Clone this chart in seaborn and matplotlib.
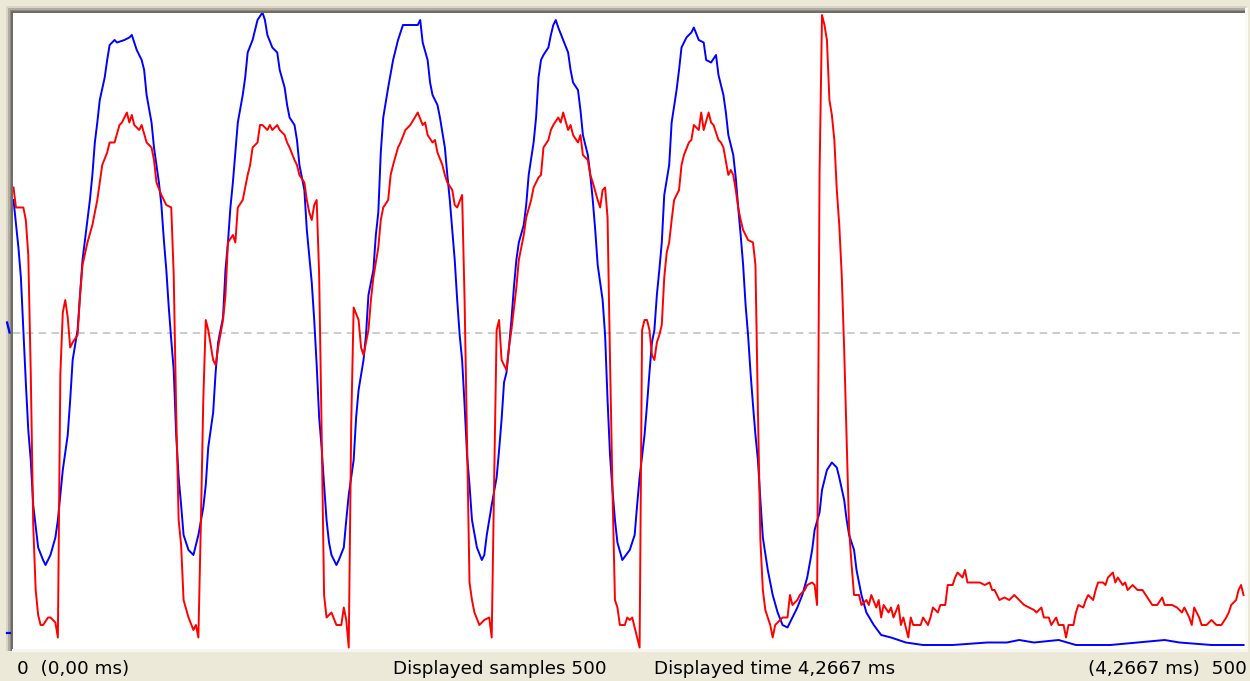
import matplotlib
matplotlib.use("Agg")
import matplotlib.pyplot as plt
from matplotlib.patches import Rectangle
import seaborn as sns
import pandas as pd

# ---------------- data (sample index, 8-bit level) ----------------
blue_sample = [
    0, 2, 3, 4, 5, 6, 7, 8, 10, 12,
    13, 15, 17, 18, 19, 20, 22, 23, 24, 26,
    27, 28, 29, 31, 32, 33, 34, 35, 37, 38,
    39, 41, 42, 45, 47, 48, 50, 52, 53, 54,
    56, 57, 59, 60, 61, 62, 63, 64, 65, 66,
    67, 68, 69, 71, 73, 75, 77, 78, 79, 81,
    82, 83, 85, 86, 87, 88, 89, 90, 91, 93,
    94, 95, 97, 98, 99, 101, 102, 103, 105, 107,
    108, 110, 111, 112, 114, 115, 116, 118, 119, 121,
    122, 123, 124, 125, 126, 127, 128, 129, 131, 132,
    134, 135, 136, 138, 139, 140, 142, 143, 144, 146,
    147, 148, 149, 150, 152, 154, 156, 158, 162, 164,
    165, 166, 168, 169, 170, 172, 173, 175, 176, 177,
    178, 179, 180, 181, 182, 183, 184, 185, 186, 188,
    190, 191, 192, 194, 196, 197, 198, 199, 200, 201,
    202, 203, 204, 205, 207, 208, 209, 211, 212, 213,
    214, 215, 217, 218, 219, 220, 221, 223, 225, 226,
    227, 229, 230, 231, 233, 234, 235, 236, 237, 239,
    240, 241, 242, 243, 244, 245, 247, 250, 252, 253,
    254, 256, 257, 258, 259, 260, 261, 262, 263, 264,
    266, 267, 269, 270, 271, 273, 275, 276, 278, 280,
    281, 283, 285, 286, 288, 289, 290, 292, 293, 294,
    295, 296, 297, 298, 299, 300, 301, 302, 303, 304,
    306, 308, 310, 312, 314, 316, 318, 320, 322, 324,
    325, 327, 328, 330, 332, 334, 335, 337, 338, 339,
    341, 342, 344, 346, 349, 352, 356, 362, 369, 381,
    395, 403, 408, 414, 424, 431, 445, 467, 473, 486,
    499,
]
blue_level = [
    180, 161, 149, 128, 107, 88, 76, 58, 41, 36,
    34, 38, 45, 52, 62, 72, 86, 100, 116, 128,
    142, 156, 164, 180, 190, 203, 211, 220, 229, 236,
    242, 244, 243, 244, 245, 246, 240, 236, 232, 222,
    211, 201, 187, 178, 164, 152, 137, 124, 112, 86,
    69, 58, 46, 40, 38, 46, 57, 66, 81, 95,
    111, 123, 133, 152, 163, 177, 187, 199, 211, 222,
    229, 239, 244, 248, 252, 255, 252, 246, 241, 239,
    232, 225, 218, 213, 210, 204, 194, 184, 168, 147,
    132, 114, 93, 81, 66, 52, 43, 38, 34, 36,
    41, 52, 62, 76, 93, 104, 116, 126, 142, 152,
    166, 175, 199, 213, 225, 236, 244, 250, 250, 250,
    252, 243, 236, 227, 222, 218, 213, 201, 190, 180,
    168, 156, 140, 126, 116, 98, 78, 66, 52, 41,
    36, 38, 46, 58, 69, 80, 92, 107, 111, 121,
    132, 145, 156, 163, 170, 178, 190, 203, 213, 229,
    236, 238, 241, 246, 250, 252, 249, 244, 239, 232,
    227, 224, 216, 206, 198, 190, 180, 168, 154, 140,
    126, 100, 78, 64, 52, 43, 36, 40, 46, 58,
    69, 86, 98, 111, 123, 128, 142, 152, 163, 182,
    194, 211, 224, 232, 241, 245, 247, 249, 244, 243,
    236, 235, 238, 230, 222, 215, 206, 198, 189, 177,
    166, 154, 138, 126, 111, 98, 86, 76, 60, 45,
    32, 22, 15, 10, 9, 13, 17, 22, 29, 40,
    48, 55, 64, 72, 75, 73, 69, 60, 52, 46,
    40, 32, 22, 15, 10, 6, 5, 3, 2, 2,
    3, 3, 4, 3, 4, 2, 2, 4, 3, 2,
    2,
]

red_sample = [
    0, 1, 4, 5, 6, 7, 8, 9, 10, 11,
    12, 14, 15, 16, 17, 18, 19, 20, 21, 22,
    23, 24, 26, 27, 28, 30, 32, 33, 34, 36,
    38, 39, 41, 43, 44, 46, 47, 48, 49, 51,
    52, 54, 56, 57, 58, 60, 62, 64, 65, 66,
    67, 68, 69, 71, 73, 74, 75, 76, 77, 78,
    79, 80, 81, 82, 83, 85, 86, 87, 89, 90,
    91, 93, 95, 96, 97, 99, 100, 101, 103, 104,
    105, 107, 108, 110, 111, 112, 114, 115, 116, 118,
    119, 120, 121, 122, 123, 124, 125, 126, 127, 129,
    131, 133, 134, 135, 136, 137, 138, 140, 141, 142,
    144, 145, 146, 148, 149, 150, 152, 153, 154, 156,
    157, 159, 161, 164, 166, 167, 168, 170, 171, 172,
    174, 175, 176, 178, 179, 180, 182, 183, 184, 185,
    186, 187, 189, 191, 193, 194, 195, 196, 197, 198,
    200, 201, 202, 204, 205, 206, 207, 208, 210, 211,
    213, 214, 215, 217, 218, 219, 221, 222, 223, 225,
    226, 227, 229, 230, 231, 233, 234, 235, 237, 238,
    239, 240, 241, 242, 243, 244, 245, 246, 248, 249,
    250, 251, 253, 254, 255, 256, 257, 258, 259, 260,
    261, 262, 263, 264, 265, 266, 267, 268, 270, 271,
    272, 274, 275, 276, 278, 279, 280, 282, 283, 284,
    286, 287, 288, 290, 291, 292, 293, 294, 295, 296,
    298, 300, 301, 302, 303, 304, 305, 306, 307, 308,
    309, 311, 312, 314, 315, 316, 318, 319, 321, 322,
    324, 325, 326, 327, 328, 329, 330, 331, 332, 333,
    334, 335, 336, 337, 338, 339, 340, 341, 343, 344,
    346, 347, 348, 350, 351, 352, 353, 355, 356, 357,
    359, 360, 361, 363, 364, 365, 368, 369, 371, 372,
    373, 375, 376, 378, 379, 381, 382, 383, 385, 386,
    387, 389, 392, 394, 396, 397, 398, 400, 402, 404,
    406, 408, 410, 412, 414, 415, 417, 418, 420, 421,
    423, 424, 426, 427, 428, 430, 431, 432, 434, 435,
    436, 438, 439, 440, 442, 443, 444, 446, 447, 448,
    450, 451, 452, 454, 456, 458, 462, 464, 466, 467,
    470, 472, 474, 475, 477, 478, 479, 481, 482, 484,
    486, 488, 490, 492, 493, 494, 496, 497, 498, 499,
]
red_level = [
    185, 177, 177, 172, 158, 111, 50, 24, 14, 10,
    10, 13, 13, 12, 11, 5, 110, 135, 140, 133,
    121, 123, 126, 142, 154, 163, 170, 175, 180, 194,
    199, 203, 203, 210, 211, 215, 211, 214, 210, 208,
    210, 203, 201, 196, 187, 182, 178, 177, 150, 95,
    52, 42, 20, 13, 8, 10, 5, 50, 100, 132,
    128, 122, 116, 114, 121, 132, 142, 163, 166, 163,
    177, 180, 190, 194, 201, 203, 210, 210, 208, 210,
    208, 210, 208, 206, 203, 201, 196, 194, 190, 187,
    180, 175, 172, 178, 180, 150, 88, 22, 13, 15,
    10, 10, 17, 12, 1, 90, 137, 132, 121, 118,
    128, 140, 149, 161, 172, 177, 180, 190, 194, 201,
    203, 208, 210, 215, 210, 211, 206, 203, 204, 199,
    194, 190, 187, 184, 178, 177, 182, 140, 84, 27,
    20, 15, 10, 12, 13, 5, 68, 128, 132, 116,
    112, 121, 128, 145, 156, 161, 166, 173, 180, 185,
    189, 190, 201, 204, 208, 210, 213, 211, 215, 208,
    210, 206, 203, 206, 198, 196, 190, 187, 180, 177,
    184, 185, 173, 116, 64, 20, 17, 10, 10, 13,
    12, 13, 5, 1, 128, 132, 132, 128, 118, 116,
    123, 126, 130, 149, 159, 163, 172, 180, 184, 194,
    198, 203, 204, 210, 208, 215, 208, 215, 211, 210,
    204, 203, 201, 190, 192, 190, 184, 177, 172, 168,
    164, 163, 154, 96, 44, 24, 16, 13, 10, 5,
    10, 12, 13, 13, 22, 18, 20, 22, 24, 26,
    27, 26, 18, 190, 254, 250, 244, 220, 214, 204,
    184, 170, 150, 120, 84, 48, 34, 22, 22, 18,
    20, 18, 22, 17, 20, 13, 18, 15, 17, 13,
    18, 10, 13, 5, 13, 10, 10, 13, 10, 13,
    17, 15, 18, 18, 26, 26, 29, 31, 29, 32,
    27, 27, 27, 26, 27, 24, 24, 20, 21, 20,
    22, 20, 18, 17, 16, 15, 17, 13, 13, 10,
    13, 10, 10, 5, 10, 10, 15, 18, 17, 20,
    22, 20, 24, 27, 27, 26, 29, 31, 27, 29,
    26, 27, 24, 26, 24, 24, 18, 18, 21, 18,
    18, 17, 15, 17, 13, 10, 17, 13, 10, 10,
    12, 10, 10, 13, 15, 18, 20, 24, 26, 22,
]

mid_level = 127
# level markers shown at the left edge of the scope
marker_sample = [-2.6, -1.6]
marker_upper = [131, 127]
marker_lower = [7, 7]

label_left = "0  (0,00 ms)"
label_samples = "Displayed samples 500"
label_time = "Displayed time 4,2667 ms"
label_right = "(4,2667 ms)  500"

assert len(blue_sample) == len(blue_level)
assert len(red_sample) == len(red_level)

blue_df = pd.DataFrame({"sample": blue_sample, "level": blue_level})
red_df = pd.DataFrame({"sample": red_sample, "level": red_level})

# ---------------- figure ----------------
W, H = 1250, 681
BEIGE = "#ECE9D8"
fig = plt.figure(figsize=(W / 100, H / 100), dpi=100, facecolor=BEIGE)


def fx(px):
    return px / W


def fy(py):
    return 1 - py / H


def rect(x0, y0, x1, y1, color):
    fig.add_artist(Rectangle((fx(x0), fy(y1)), fx(x1) - fx(x0), fy(y0) - fy(y1),
                             transform=fig.transFigure, color=color, lw=0, zorder=1))


# sunken frame around the scope area
stripes = ["#D8D5C8", "#B0AD9F", "#8E8C81", "#6E6C63"]
for k, c in enumerate(stripes):
    rect(6 + k * 1.75, 6 + k * 1.75, 6 + (k + 1) * 1.75, 651, c)    # left
    rect(6 + k * 1.75, 6 + k * 1.75, 1246, 6 + (k + 1) * 1.75, c)   # top
rect(1245, 8, 1247.5, 651, "#FAFAF7")   # right highlight
rect(12, 649, 1247.5, 651.5, "#F7F6F0")  # bottom highlight

ax = fig.add_axes([fx(13), fy(649), fx(1245) - fx(13), fy(13) - fy(649)])
ax.set_zorder(2)
ax.set_facecolor("white")

sns.lineplot(data=blue_df, x="sample", y="level", ax=ax, color="#0000FF",
             linewidth=1.4, estimator=None, sort=False, legend=False)
sns.lineplot(data=red_df, x="sample", y="level", ax=ax, color="#FF0000",
             linewidth=1.4, estimator=None, sort=False, legend=False)
ax.axhline(mid_level, color="#C4C4C4", linewidth=1.2, linestyle=(0, (4.5, 3.2)), zorder=0)

ax.plot(marker_sample, marker_upper, color="#0000FF", linewidth=1.6, clip_on=False, zorder=5)
ax.plot(marker_sample, marker_lower, color="#0000FF", linewidth=1.6, clip_on=False, zorder=5)

# y range: level 0 at the bottom line, 256 at the top border
px_per_level = 640 / 256
ax.set_ylim(0.4, 0.4 + 636 / px_per_level)
ax.set_xlim(-0.2, 499.6)
ax.set_xticks([])
ax.set_yticks([])
ax.set_xlabel("")
ax.set_ylabel("")
for s in ax.spines.values():
    s.set_visible(False)

# status bar text
fkw = dict(fontsize=13.2, family="DejaVu Sans", color="#000000", va="baseline")
fig.text(fx(17), fy(674), label_left, ha="left", **fkw)
fig.text(fx(393), fy(674), label_samples, ha="left", **fkw)
fig.text(fx(654), fy(674), label_time, ha="left", **fkw)
fig.text(fx(1247), fy(674), label_right, ha="right", **fkw)

fig.savefig("out.png", dpi=100, facecolor=BEIGE)
